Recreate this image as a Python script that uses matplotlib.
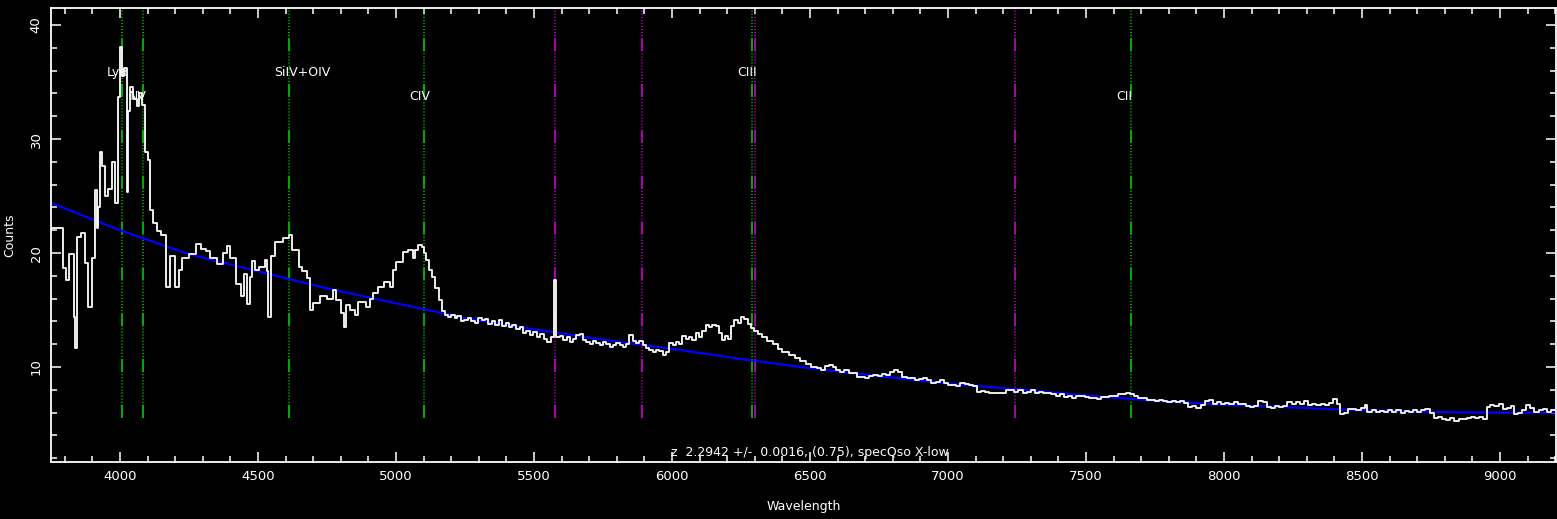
import matplotlib
matplotlib.use("Agg")
import matplotlib.pyplot as plt
from matplotlib.ticker import MultipleLocator

# --- spectrum (step start wavelength, counts) ---
# blue part: Lya forest up to CIV
blue_wave = [
    3750, 3795, 3805, 3815, 3832, 3837, 3843, 3860, 3873, 3885, 3897, 3909,
    3915, 3921, 3927, 3933, 3945, 3958, 3970, 3982, 3994, 4000, 4006, 4016,
    4024, 4030, 4036, 4048, 4060, 4070, 4080, 4090, 4100, 4109, 4121, 4133,
    4150, 4166, 4180, 4200, 4212, 4225, 4250, 4277, 4295, 4310, 4326, 4350,
    4374, 4386, 4398, 4422, 4440, 4450, 4460, 4472, 4480, 4490, 4505, 4525,
    4532, 4538, 4548, 4560, 4590, 4612, 4622, 4648, 4660, 4676, 4688, 4700,
    4725, 4750, 4770, 4782, 4800, 4812, 4820, 4835, 4850, 4862, 4890, 4905,
    4918, 4935, 4955, 4980, 4990, 5000, 5025, 5045, 5060, 5068, 5078, 5093,
    5100, 5108, 5120, 5130, 5140, 5155, 5165,
]
blue_counts = [
    22.2, 18.7, 17.6, 19.9, 14.4, 11.7, 21.4, 21.8, 19.1, 15.3, 19.6, 25.5,
    22.2, 24.0, 28.9, 27.6, 25.0, 25.6, 28.0, 24.4, 33.7, 38.1, 35.5, 36.2,
    25.4, 32.5, 34.6, 33.5, 32.9, 34.0, 33.0, 28.9, 28.2, 23.8, 22.6, 21.9,
    21.6, 17.0, 19.7, 17.0, 18.5, 19.6, 19.9, 20.8, 20.4, 20.2, 19.6, 19.0,
    20.0, 20.6, 19.6, 17.3, 16.2, 18.2, 15.5, 17.9, 19.3, 18.5, 18.8, 19.4,
    18.4, 14.4, 19.7, 21.0, 21.3, 21.6, 20.3, 18.8, 18.4, 17.8, 15.0, 15.6,
    16.2, 16.0, 16.8, 15.9, 14.7, 13.5, 15.4, 15.0, 14.6, 15.7, 15.3, 16.0,
    16.5, 17.0, 17.5, 17.0, 18.5, 19.2, 20.1, 20.3, 19.6, 20.3, 20.7, 20.5,
    20.0, 19.4, 18.5, 17.9, 16.9, 15.9, 14.9,
]

# middle part: CIV wing to the CIII] bump
mid_wave = [
    5178, 5190, 5200, 5212, 5222, 5235, 5248, 5260, 5272, 5285, 5298, 5310,
    5322, 5335, 5348, 5360, 5372, 5385, 5398, 5410, 5422, 5435, 5448, 5460,
    5472, 5485, 5498, 5510, 5522, 5535, 5548, 5560, 5572, 5579, 5594, 5606,
    5618, 5630, 5642, 5654, 5666, 5678, 5690, 5702, 5714, 5726, 5738, 5750,
    5762, 5774, 5786, 5798, 5810, 5822, 5834, 5846, 5858, 5870, 5882, 5894,
    5906, 5918, 5930, 5942, 5954, 5966, 5978, 5990, 6002, 6014, 6026, 6038,
    6050, 6062, 6074, 6086, 6098, 6110, 6122, 6134, 6146, 6158, 6170, 6180,
    6192, 6204, 6214, 6226, 6238, 6250, 6262, 6274, 6286, 6298, 6310, 6325,
    6345, 6365, 6385, 6400, 6425, 6445, 6465, 6485, 6505, 6525,
]
mid_counts = [
    14.6, 14.4, 14.6, 14.3, 14.5, 14.0, 14.1, 14.3, 14.0, 13.9, 14.3, 14.1,
    14.2, 13.8, 14.0, 13.7, 14.1, 13.6, 13.9, 13.5, 13.7, 13.3, 13.5, 13.0,
    13.2, 12.8, 13.1, 12.6, 12.9, 12.5, 12.2, 12.6, 17.6, 12.6, 12.7, 12.4,
    12.6, 12.2, 12.5, 12.8, 12.9, 12.4, 12.2, 12.0, 12.3, 12.1, 11.9, 12.2,
    12.0, 11.8, 11.9, 12.1, 11.9, 11.8, 12.0, 12.8, 12.3, 12.1, 12.3, 11.9,
    11.7, 11.5, 11.3, 11.5, 11.4, 11.1, 11.3, 12.1, 11.9, 12.2, 12.0, 12.7,
    12.5, 12.6, 12.4, 13.0, 12.6, 13.2, 13.7, 13.5, 13.7, 13.6, 13.0, 12.4,
    12.7, 12.5, 13.6, 14.1, 13.9, 14.4, 14.2, 13.8, 13.4, 13.2, 12.9, 12.6,
    12.3, 12.0, 11.6, 11.3, 11.1, 10.8, 10.5, 10.3, 10.0, 9.9,
]

# red part: continuum-dominated tail
red_wave = [
    6540, 6555, 6570, 6585, 6595, 6610, 6625, 6640, 6655, 6670, 6685, 6700,
    6715, 6730, 6745, 6760, 6775, 6790, 6805, 6820, 6835, 6850, 6865, 6880,
    6895, 6910, 6925, 6940, 6955, 6970, 6985, 7000, 7015, 7030, 7045, 7060,
    7075, 7090, 7105, 7120, 7135, 7150, 7165, 7180, 7195, 7210, 7225, 7240,
    7255, 7270, 7285, 7300, 7315, 7330, 7345, 7360, 7375, 7390, 7405, 7420,
    7435, 7450, 7465, 7480, 7495, 7510, 7525, 7540, 7555, 7570, 7585, 7600,
    7615, 7630, 7645, 7660, 7675, 7690, 7705, 7720, 7735, 7750, 7765, 7780,
    7795, 7810, 7825, 7840, 7855, 7870, 7885, 7900, 7915, 7930, 7945, 7960,
    7975, 7990, 8005, 8020, 8035, 8050, 8065, 8080, 8095, 8110, 8125, 8140,
    8155, 8170, 8185, 8200, 8215, 8230, 8245, 8260, 8275, 8290, 8305, 8320,
    8335, 8350, 8365, 8380, 8395, 8410, 8420, 8435, 8450, 8465, 8480, 8495,
    8510, 8520, 8535, 8550, 8565, 8580, 8595, 8610, 8625, 8640, 8655, 8670,
    8685, 8700, 8715, 8730, 8745, 8760, 8775, 8790, 8805, 8820, 8835, 8850,
    8865, 8880, 8895, 8910, 8925, 8940, 8952, 8965, 8980, 8995, 9010, 9025,
    9040, 9050, 9065, 9080, 9095, 9110, 9125, 9140, 9155, 9170, 9185, 9203,
]
red_counts = [
    9.7, 10.1, 10.2, 10.0, 9.75, 9.6, 9.7, 9.45, 9.5, 9.1, 9.15, 9.05,
    9.25, 9.3, 9.2, 9.35, 9.3, 9.55, 9.7, 9.6, 9.1, 9.0, 9.05, 8.9,
    8.95, 9.0, 8.85, 8.6, 8.7, 8.85, 8.6, 8.4, 8.45, 8.35, 8.6, 8.55,
    8.4, 8.3, 7.85, 7.9, 7.8, 7.75, 7.7, 7.75, 7.7, 8.0, 7.95, 7.85,
    8.0, 7.7, 7.8, 7.95, 7.75, 7.8, 7.7, 7.75, 7.6, 7.5, 7.6, 7.35,
    7.45, 7.3, 7.5, 7.45, 7.35, 7.25, 7.3, 7.2, 7.35, 7.4, 7.5, 7.45,
    7.6, 7.65, 7.7, 7.6, 7.5, 7.25, 7.3, 7.1, 7.15, 7.05, 7.1, 7.0,
    6.95, 7.05, 6.9, 7.0, 6.85, 6.5, 6.6, 6.45, 6.7, 7.05, 7.1, 6.8,
    6.9, 6.75, 6.85, 6.8, 6.9, 6.75, 6.8, 6.6, 6.5, 6.55, 7.0, 6.9,
    6.5, 6.45, 6.6, 6.5, 6.55, 6.9, 6.75, 6.95, 6.8, 7.0, 6.7, 6.8,
    6.65, 6.75, 6.7, 6.85, 7.2, 6.8, 5.9, 6.0, 6.3, 6.35, 6.25, 6.4,
    6.7, 6.1, 6.2, 6.05, 6.15, 6.1, 6.25, 6.05, 6.2, 6.0, 6.15, 6.1,
    6.25, 6.05, 6.2, 6.3, 6.0, 5.5, 5.6, 5.45, 5.35, 5.5, 5.3, 5.45,
    5.4, 5.55, 5.6, 5.5, 5.6, 5.45, 6.5, 6.7, 6.55, 6.8, 6.3, 6.4,
    6.6, 5.9, 6.0, 6.2, 6.65, 6.4, 6.1, 6.25, 6.35, 6.1, 6.2, 6.2,
]

# --- fitted continuum (blue) ---
cont_wave = [3750, 4000, 4250, 4500, 4750, 5000, 5250, 5500, 5750, 6000,
             6250, 6500, 6750, 7000, 7250, 7500, 7750, 8000, 8250, 8500,
             8750, 9000, 9203]
cont_counts = [24.4, 22.0, 19.9, 18.4, 16.9, 15.6, 14.3, 13.3, 12.4, 11.6,
               10.7, 9.9, 9.2, 8.55, 8.05, 7.5, 7.05, 6.7, 6.45, 6.2,
               6.05, 6.0, 6.0]

# --- emission line markers (observed wavelength) ---
line_names = ["Ly\u03b1", "NV", "SiIV+OIV", "CIV", "CIII", "CII"]
line_waves = [4006, 4085, 4612, 5103, 6289, 7663]
line_label_y = [35.8, 33.7, 35.8, 33.7, 35.8, 33.7]

# --- sky lines ---
sky_waves = [5577, 5893, 6300, 7243]

fit_text = "z  2.2942 +/-  0.0016, (0.75), specQso X-low"

spec_wave = blue_wave + mid_wave + red_wave
spec_counts = blue_counts + mid_counts + red_counts
assert len(spec_wave) == len(spec_counts)

plt.rcParams['font.family'] = ['DejaVu Sans']
plt.rcParams['lines.scale_dashes'] = False

fig = plt.figure(figsize=(15.57, 5.19), dpi=100, facecolor='black')
ax = fig.add_axes([51 / 1557, 57 / 519, 1505 / 1557, 454 / 519])
ax.set_facecolor('black')

# long dash followed by a run of dots, like the original marker lines
dash_dots = [9.5] + [1.5, 0.7] * 10 + [1.5]

for w in line_waves:
    ax.plot([w, w], [5.5, 41.5], color='#00dd00', lw=1.1, dashes=dash_dots)
for w in sky_waves:
    ax.plot([w, w], [5.5, 41.5], color='#e000e0', lw=1.1, dashes=dash_dots)

ax.plot(cont_wave, cont_counts, color='#0000ff', lw=1.6)
ax.step(spec_wave, spec_counts, where='post', color='white', lw=1.3)

for name, w, yl in zip(line_names, line_waves, line_label_y):
    ax.annotate(name, (w, yl), xytext=(-15, 0), textcoords='offset pixels',
                ha='left', va='center', color='white', fontsize=9)

ax.text(0.504, 0.022, fit_text, transform=ax.transAxes, ha='center',
        va='center', color='white', fontsize=9)

ax.set_xlim(3750, 9203)
ax.set_ylim(1.67, 41.5)
ax.xaxis.set_major_locator(MultipleLocator(500))
ax.xaxis.set_minor_locator(MultipleLocator(100))
ax.yaxis.set_major_locator(MultipleLocator(10))
ax.yaxis.set_minor_locator(MultipleLocator(2))

for s in ax.spines.values():
    s.set_color('white')
    s.set_linewidth(1.3)
ax.tick_params(which='both', direction='in', colors='white', top=True,
               right=True, width=1.1, labelsize=9.5, pad=6)
ax.tick_params(which='major', length=7)
ax.tick_params(which='minor', length=4)
for lab in ax.get_yticklabels():
    lab.set_rotation(90)
    lab.set_va('center')

ax.set_xlabel("Wavelength", color='white', fontsize=9, labelpad=12)
ax.set_ylabel("Counts", color='white', fontsize=9, labelpad=10)

fig.savefig("out.png", dpi=100, facecolor='black')
